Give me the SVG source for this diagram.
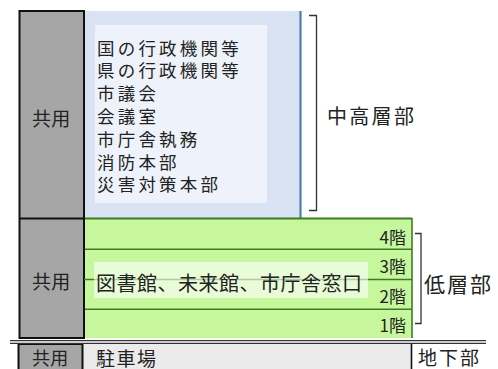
<svg xmlns="http://www.w3.org/2000/svg" width="498" height="369" viewBox="0 0 498 369">
<style>
text{font-family:"Noto Sans CJK JP","Noto Sans",sans-serif;fill:#222;dominant-baseline:central}
.lst{font-size:17.5px;letter-spacing:3.2px}
.cm{font-size:19px;letter-spacing:0.3px}
.lbl{font-size:20px;letter-spacing:2.2px}
.fl{font-size:17px;text-anchor:end}
.gl{stroke:#3f7a25;stroke-width:1.6;fill:none}
.br{stroke:#333;stroke-width:1.3;fill:none}
</style>
<rect width="498" height="369" fill="#fff"/>
<g id="kyoyo-upper">
<rect x="19.5" y="11" width="64.5" height="327" fill="#a6a6a6" stroke="#111" stroke-width="2"/>
<line x1="19" y1="218.5" x2="84" y2="218.5" stroke="#111" stroke-width="2"/>
<text class="cm" x="32" y="117">共用</text>
<text class="cm" x="32" y="280">共用</text>
</g>
<g id="middle-high">
<rect x="85" y="11" width="216" height="207" fill="#dae3f3"/>
<line x1="300.5" y1="11" x2="300.5" y2="218" stroke="#4f7eb0" stroke-width="2.2"/>
<rect x="95" y="25" width="172" height="178" fill="#eef2fa"/>
<text class="lst" x="97" y="47">国の行政機関等</text>
<text class="lst" x="97" y="69.8">県の行政機関等</text>
<text class="lst" x="97" y="92.6">市議会</text>
<text class="lst" x="97" y="115.4">会議室</text>
<text class="lst" x="97" y="138.2">市庁舎執務</text>
<text class="lst" x="97" y="161">消防本部</text>
<text class="lst" x="97" y="183.8">災害対策本部</text>
</g>
<g id="low">
<rect x="85" y="218.5" width="327" height="119.5" fill="#c6f79c"/>
<line class="gl" x1="85" y1="218.5" x2="412" y2="218.5" style="stroke-width:2.2"/>
<line class="gl" x1="85" y1="249.3" x2="412" y2="249.3"/>
<line class="gl" x1="84" y1="279.5" x2="412" y2="279.5"/>
<line class="gl" x1="85" y1="309.3" x2="412" y2="309.3"/>
<line class="gl" x1="412" y1="218" x2="412" y2="338"/>
<rect x="94" y="262" width="274" height="36" fill="#fff" fill-opacity="0.6"/>
<text class="lbl" x="96" y="282.5" style="letter-spacing:0.5px">図書館、未来館、市庁舎窓口</text>
<text class="fl" x="406" y="236.5">4階</text>
<text class="fl" x="406" y="265.5">3階</text>
<text class="fl" x="406" y="295">2階</text>
<text class="fl" x="406" y="324">1階</text>
</g>
<g id="basement">
<rect x="83" y="344" width="328.5" height="26" fill="#ebebeb"/>
<rect x="18.5" y="344" width="64" height="30" fill="#a6a6a6" stroke="#111" stroke-width="2"/>
<line x1="411.5" y1="343" x2="411.5" y2="369" stroke="#111" stroke-width="1.6"/>
<text class="cm" x="32" y="357" style="font-size:18px">共用</text>
<text class="lbl" x="96" y="357" style="font-size:19px;letter-spacing:1.5px">駐車場</text>
<text class="lbl" x="418" y="356.5" style="font-size:19px;letter-spacing:2px">地下部</text>
</g>
<g id="connectors">
<line x1="10" y1="340.7" x2="486" y2="340.7" stroke="#333" stroke-width="1.2"/>
<line x1="10" y1="343.3" x2="486" y2="343.3" stroke="#333" stroke-width="1.2"/>
<polyline class="br" points="309,15.5 316.5,15.5 316.5,210.5 309,210.5"/>
<polyline class="br" points="415,233.5 421,233.5 421,323.5 415,323.5"/>
</g>
<g id="labels">
<text class="lbl" x="327" y="115.5" style="font-size:20px;letter-spacing:2.3px">中高層部</text>
<text class="lbl" x="424" y="282.5" style="font-size:21px;letter-spacing:2px">低層部</text>
</g>
</svg>
